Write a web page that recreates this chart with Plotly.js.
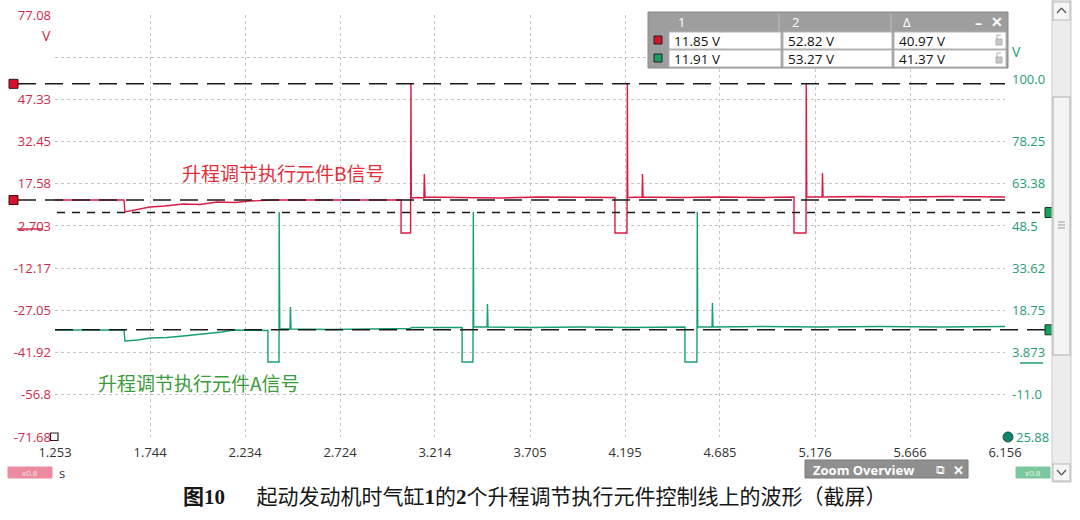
<!DOCTYPE html>
<html><head><meta charset="utf-8">
<script src="https://cdn.plot.ly/plotly-3.0.1.min.js"></script>
<style>html,body{margin:0;padding:0;background:#fff;}#chart{width:1080px;height:520px;}</style>
</head><body><div id="chart"></div>
<script>
// ---------- data ----------
const timeTicks = [1.253, 1.744, 2.234, 2.724, 3.214, 3.705, 4.195, 4.685, 5.176, 5.666, 6.156];
const timeTickText = ['1.253','1.744','2.234','2.724','3.214','3.705','4.195','4.685','5.176','5.666','6.156'];
const leftTicks = [77.08, 62.205, 47.33, 32.45, 17.58, 2.703, -12.17, -27.05, -41.92, -56.8, -71.68];
const leftTickText = ['77.08', '', '47.33', '32.45', '17.58', '2.703', '-12.17', '-27.05', '-41.92', '-56.8', '-71.68'];
const rightTicks = [100.0, 78.25, 63.38, 48.5, 33.62, 18.75, 3.873, -11.0];
const rightTickText = ['100.0', '78.25', '63.38', '48.5', '33.62', '18.75', '3.873', '-11.0'];
const rightBottomText = '25.88';
const timeRange = [1.253, 6.156];
const leftRange = [-71.68, 77.08];
const rightRange = [-25.88, 122.88];

// Channel B (red, left axis) waveform: time (s), voltage (V)
const chBTime = [1.253, 1.434, 1.609, 1.614, 1.666, 1.743, 1.821, 1.914, 2.001, 2.089, 2.182, 2.259, 2.378, 2.672, 3.039,
  3.039, 3.088, 3.090, 3.092, 3.126, 3.157, 3.159, 3.163, 3.343, 3.550, 3.756, 3.963, 4.143,
  4.143, 4.205, 4.207, 4.209, 4.283, 4.285, 4.288, 4.479, 4.685, 4.892, 5.067,
  5.067, 5.129, 5.130, 5.133, 5.212, 5.214, 5.217, 5.408, 5.614, 5.872, 6.156];
const chBVolt = [11.87, 11.8, 11.87, 7.64, 8.34, 9.40, 9.75, 10.46, 10.28, 11.16, 10.99, 11.51, 11.87, 11.87, 11.87,
  0.23, 0.23, 53.11, 12.57, 12.75, 12.57, 21.03, 12.92, 12.75, 12.57, 12.92, 12.75, 12.75,
  0.23, 0.23, 53.11, 12.75, 12.92, 21.03, 12.92, 12.75, 12.92, 12.75, 12.92,
  0.23, 0.23, 53.11, 12.92, 12.92, 21.38, 12.92, 13.10, 12.92, 13.10, 12.92];

// Channel A (green, right axis) waveform
const chATime = [1.253, 1.609, 1.614, 1.681, 1.743, 1.831, 1.914, 1.986, 2.053, 2.115, 2.172, 2.352,
  2.352, 2.409, 2.410, 2.413, 2.466, 2.468, 2.471, 2.672, 2.879, 3.085, 3.095, 3.240, 3.354,
  3.354, 3.410, 3.412, 3.414, 3.483, 3.485, 3.488, 3.705, 3.963, 4.221, 4.504,
  4.504, 4.566, 4.568, 4.570, 4.644, 4.646, 4.649, 4.892, 5.201, 5.511, 5.820, 6.156];
const chAVolt = [11.84, 11.84, 7.96, 8.31, 9.02, 9.19, 9.72, 10.25, 10.78, 11.13, 11.84, 11.66,
  0.56, 0.56, 53.44, 12.19, 12.19, 19.95, 12.19, 12.01, 12.19, 12.37, 12.72, 12.72, 12.72,
  0.56, 0.56, 53.44, 12.90, 12.90, 21.01, 12.90, 12.72, 12.90, 12.72, 12.90,
  0.56, 0.56, 53.44, 12.90, 12.90, 21.36, 12.90, 13.07, 12.90, 13.07, 12.90, 13.07];

// ruler table
const rulerHeaders = ['1', '2', 'Δ'];
const rulerB = [11.85, 52.82, 40.97];
const rulerA = [11.91, 53.27, 41.37];

const labelB = '升程调节执行元件B信号';
const labelA = '升程调节执行元件A信号';
const caption = '<b>图10</b>\u00a0\u00a0\u00a0\u00a0\u00a0\u00a0起动发动机时气缸<b>1</b>的<b>2</b>个升程调节执行元件控制线上的波形（截屏）';

// ---------- styling / geometry ----------
const L = 55, R = 1005, T = 15, B = 437;
const px = x => (x - L) / (R - L);
const py = y => (B - y) / (B - T);
const RED = '#dc1a44', GREEN = '#179e72';
const LRED = '#cc2a48', LGREEN = '#1f9c78';
const UI = '"Open Sans", "Noto Sans", sans-serif';
const CJK = '"Noto Sans CJK SC", sans-serif';

const shapes = [];
const ann = [];
function rect(x0, y0, x1, y1, fill, line, lw) {
  shapes.push({type: 'rect', xref: 'paper', yref: 'paper', x0: px(x0), x1: px(x1), y0: py(y1), y1: py(y0),
    fillcolor: fill, line: {color: line || fill, width: lw === undefined ? 1 : lw}, layer: 'above'});
}
function seg(x0, y0, x1, y1, color, w, dash) {
  shapes.push({type: 'line', xref: 'paper', yref: 'paper', x0: px(x0), x1: px(x1), y0: py(y0), y1: py(y1),
    line: {color: color, width: w, dash: dash || 'solid'}, layer: 'above'});
}
function txt(x, y, text, size, color, anchor, family, extra) {
  ann.push(Object.assign({xref: 'paper', yref: 'paper', x: px(x), y: py(y), text: text, showarrow: false,
    xanchor: anchor || 'left', yanchor: 'middle', font: {size: size, color: color, family: family || UI}}, extra || {}));
}

// rulers (lines from ruler values)
[rulerB[1], rulerB[0]].forEach(v => {
  shapes.push({type: 'line', xref: 'paper', yref: 'y', x0: px(18), x1: px(1005), y0: v, y1: v,
    line: {color: '#1a1a1a', width: 1.6, dash: '18px,9px'}, layer: 'above'});
  shapes.push({type: 'rect', xref: 'paper', yref: 'y', xsizemode: 'pixel', ysizemode: 'pixel',
    xanchor: px(13.5), yanchor: v, x0: -4.5, x1: 4.5, y0: -4.5, y1: 4.5,
    fillcolor: '#d8102e', line: {color: '#3a1010', width: 1}, layer: 'above'});
});
shapes.push({type: 'line', xref: 'paper', yref: 'y2', x0: px(57), x1: px(1045), y0: rulerA[1], y1: rulerA[1],
  line: {color: '#1a1a1a', width: 1.6, dash: '8px,7px'}, layer: 'above'});
shapes.push({type: 'line', xref: 'paper', yref: 'y2', x0: px(55), x1: px(1045), y0: rulerA[0], y1: rulerA[0],
  line: {color: '#1a1a1a', width: 1.6, dash: '18px,9px'}, layer: 'above'});
[rulerA[1], rulerA[0]].forEach(v => {
  shapes.push({type: 'rect', xref: 'paper', yref: 'y2', xsizemode: 'pixel', ysizemode: 'pixel',
    xanchor: px(1050), yanchor: v, x0: -5, x1: 5, y0: -5, y1: 5,
    fillcolor: '#18a060', line: {color: '#103a20', width: 1}, layer: 'above'});
});

// axis decorations
rect(50.5, 433, 58, 440.5, 'rgba(0,0,0,0)', '#222', 1.2);
shapes.push({type: 'circle', xref: 'paper', yref: 'paper', x0: px(1003), x1: px(1013), y0: py(442), y1: py(432),
  fillcolor: '#15806a', line: {color: '#0e5a4a', width: 1}, layer: 'above'});
seg(17, 229, 43, 229, LRED, 1.5);
seg(1020, 363, 1043, 363, LGREEN, 1.5);
txt(46, 35, 'V', 14, LRED, 'center');
txt(1016, 51, 'V', 14, LGREEN, 'center');
txt(1014, 437, rightBottomText, 13, LGREEN, 'left');
txt(57, 473, 's', 13, '#333', 'left');
rect(8, 467, 52, 478, '#ec8aa0');
txt(30, 472.5, 'x0.8', 8, '#fbe0e6', 'center');
rect(1016, 467, 1050, 478, '#7cc89e');
txt(1033, 472.5, 'x0.8', 8, '#e6f6ee', 'center');

// zoom overview box
rect(805, 460, 968, 478, '#8f8f8f', '#7a7a7a');
txt(811, 469.5, '<b>Zoom Overview</b>', 13, '#ffffff', 'left');
txt(940, 469.5, '⧉', 12, '#ffffff', 'center');
txt(958, 469.5, '<b>✕</b>', 13, '#ffffff', 'center');

// scrollbar
rect(1052, 0, 1071, 482, '#ececec', '#c8c8c8');
rect(1053, 2, 1070, 20, '#f6f6f6', '#b8b8b8');
rect(1053, 97, 1070, 355, '#f4f4f4', '#b0b0b0');
rect(1053, 464, 1070, 481, '#f6f6f6', '#b8b8b8');
seg(1057, 13, 1061.5, 8, '#555', 1.2); seg(1061.5, 8, 1066, 13, '#555', 1.2);
seg(1057, 470, 1061.5, 475, '#555', 1.2); seg(1061.5, 475, 1066, 470, '#555', 1.2);
seg(1058, 222, 1065, 222, '#999', 1); seg(1058, 225, 1065, 225, '#999', 1); seg(1058, 228, 1065, 228, '#999', 1);

// ruler table
rect(648, 12, 1008, 68, '#9e9e9e', '#8a8a8a');
const colX = [669, 783, 894], colW = [112, 109, 112];
[[rulerB, 32, '#d8102e'], [rulerA, 50, '#18a060']].forEach(([vals, y0, col]) => {
  rect(654, y0 + 4, 662, y0 + 12, col, '#222');
  for (let i = 0; i < 3; i++) {
    rect(colX[i], y0, colX[i] + colW[i], y0 + 17, '#ffffff', '#b4b4b4');
    txt(colX[i] + 3, y0 + 8.5, vals[i].toFixed(2) + ' V', 13.5, '#111', 'left');
  }
  rect(996, y0 + 7, 1002, y0 + 13, '#c8c8c8', '#b0b0b0');
  seg(997, y0 + 7, 997, y0 + 3, '#b8b8b8', 1.2); seg(997, y0 + 3, 1001, y0 + 3, '#b8b8b8', 1.2);
});
rulerHeaders.forEach((h, i) => txt(colX[i] + 7, 22, h, 13, '#ffffff', 'left'));
seg(779, 14, 779, 31, '#bdbdbd', 1); seg(891, 14, 891, 31, '#bdbdbd', 1);
txt(978, 22, '<b>–</b>', 14, '#ffffff', 'center');
txt(997, 21, '<b>✕</b>', 14, '#ffffff', 'center');

// waveform labels
txt(283, 172, labelB, 19, '#e2303a', 'center', CJK);
txt(199, 382, labelA, 19, '#3a9c3a', 'center', CJK);
// caption
ann.push({xref: 'paper', yref: 'paper', x: px(535), y: py(497), xanchor: 'center', yanchor: 'middle', showarrow: false,
  text: caption, font: {size: 21, color: '#161616', family: '"Liberation Serif", "Noto Sans CJK SC", serif', weight: 400}});

const traces = [
  {x: chBTime, y: chBVolt, type: 'scatter', mode: 'lines', yaxis: 'y', line: {color: RED, width: 1.4}, hoverinfo: 'skip', name: 'B'},
  {x: chATime, y: chAVolt, type: 'scatter', mode: 'lines', yaxis: 'y2', line: {color: GREEN, width: 1.4}, hoverinfo: 'skip', name: 'A'}
];

const layout = {
  width: 1080, height: 520,
  margin: {l: L, r: 1080 - R, t: T, b: 520 - B},
  paper_bgcolor: '#ffffff', plot_bgcolor: '#ffffff',
  showlegend: false,
  xaxis: {range: timeRange, tickvals: timeTicks, ticktext: timeTickText, showgrid: true, gridcolor: '#c6c6c6',
    griddash: '3px,3px', gridwidth: 1, zeroline: false, showline: false, ticks: '', ticklabelstandoff: 6,
    tickfont: {size: 13, color: '#333333', family: UI}, fixedrange: true},
  yaxis: {range: leftRange, tickvals: leftTicks, ticktext: leftTickText, showgrid: true, gridcolor: '#c6c6c6',
    griddash: '3px,3px', gridwidth: 1, zeroline: false, showline: false, ticks: '', ticklabelstandoff: 3,
    tickfont: {size: 13, color: LRED, family: UI}, fixedrange: true},
  yaxis2: {range: rightRange, overlaying: 'y', side: 'right', tickvals: rightTicks, ticktext: rightTickText,
    showgrid: false, zeroline: false, showline: false, ticks: '', ticklabelstandoff: 6,
    tickfont: {size: 13, color: LGREEN, family: UI}, fixedrange: true},
  shapes: shapes,
  annotations: ann
};

Plotly.newPlot('chart', traces, layout, {staticPlot: true, displayModeBar: false});
</script>
</body></html>
